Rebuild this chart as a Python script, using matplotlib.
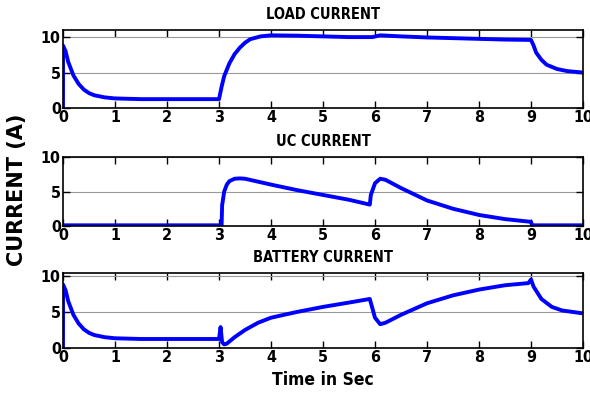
import matplotlib.pyplot as plt

# values (time in s, current in A)
load_t = [0, 0.001, 0.05, 0.1, 0.2, 0.3, 0.4, 0.5, 0.6, 0.8, 1.0, 1.5, 2.0, 2.5, 3.0,
          3.05, 3.1, 3.2, 3.3, 3.4, 3.5, 3.6, 3.8, 4.0, 4.5, 5.0, 5.5, 5.95, 6.1, 6.5,
          7.0, 7.5, 8.0, 8.5, 9.0, 9.05, 9.1, 9.2, 9.3, 9.5, 9.7, 10.0]
load_i = [0, 8.8, 8.0, 6.5, 4.6, 3.4, 2.6, 2.1, 1.8, 1.5, 1.35, 1.25, 1.25, 1.25, 1.25,
          3.0, 4.5, 6.3, 7.6, 8.5, 9.2, 9.7, 10.1, 10.25, 10.2, 10.1, 10.0, 10.0, 10.25, 10.1,
          9.95, 9.85, 9.75, 9.65, 9.6, 8.8, 7.8, 6.8, 6.1, 5.5, 5.2, 5.0]

uc_t = [0, 3.05, 3.06, 3.1, 3.15, 3.2, 3.3, 3.4, 3.5, 4.0, 4.5, 5.0, 5.5, 5.9, 5.92,
        6.0, 6.1, 6.2, 6.5, 7.0, 7.5, 8.0, 8.5, 9.0, 9.02, 10.0]
uc_i = [0.1, 0.1, 3.0, 5.0, 6.0, 6.5, 6.85, 6.9, 6.85, 6.0, 5.2, 4.5, 3.8, 3.1, 4.5,
        6.2, 6.85, 6.7, 5.5, 3.7, 2.5, 1.6, 1.0, 0.6, 0.1, 0.1]

bat_t = [0, 0.001, 0.05, 0.1, 0.2, 0.3, 0.4, 0.5, 0.6, 0.8, 1.0, 1.5, 2.0, 2.5, 3.0,
         3.03, 3.06, 3.1, 3.15, 3.3, 3.5, 3.75, 4.0, 4.5, 5.0, 5.5, 5.9, 5.95, 6.0,
         6.1, 6.2, 6.5, 7.0, 7.5, 8.0, 8.5, 8.95, 9.0, 9.05, 9.2, 9.4, 9.6, 10.0]
bat_i = [0, 8.8, 8.0, 6.5, 4.6, 3.4, 2.6, 2.1, 1.8, 1.5, 1.35, 1.25, 1.25, 1.25, 1.25,
         2.9, 0.8, 0.5, 0.6, 1.5, 2.5, 3.5, 4.2, 5.0, 5.7, 6.3, 6.8, 5.5, 4.2,
         3.3, 3.5, 4.6, 6.2, 7.3, 8.1, 8.7, 9.0, 9.5, 8.5, 6.8, 5.7, 5.2, 4.8]

titles = ["LOAD CURRENT", "UC CURRENT", "BATTERY CURRENT"]
series = [(load_t, load_i), (uc_t, uc_i), (bat_t, bat_i)]
y_tops = [11, 10, 10.4]

plt.rcParams["font.family"] = ["DejaVu Sans"]
plt.rcParams["font.stretch"] = "condensed"
plt.rcParams["font.weight"] = "bold"


def main():
    fig = plt.figure(figsize=(5.9, 3.96), dpi=100)
    W, H = 590, 396
    boxes = [(30, 108), (157, 226), (273, 348)]
    left, right = 63, 583
    for (top, bot), title, (t, i), ytop in zip(boxes, titles, series, y_tops):
        ax = fig.add_axes([left / W, 1 - bot / H, (right - left) / W, (bot - top) / H])
        ax.plot(t, i, color="#0000ff", lw=2.8)
        ax.set_xlim(0, 10)
        ax.set_ylim(0, ytop)
        ax.set_xticks(range(11))
        ax.set_yticks([0, 5, 10])
        ax.grid(axis="y", color="#999999", lw=0.8)
        ax.tick_params(direction="in", top=True, right=True, labelsize=11.5, pad=1.5,
                       length=5, width=1)
        for s in ax.spines.values():
            s.set_linewidth(1.2)
        ax.set_title(title, fontsize=10.5, fontweight="bold", pad=8)
        if title == "BATTERY CURRENT":
            ax.set_xlabel("Time in Sec", fontsize=12.5, fontweight="bold", labelpad=4)
    fig.text(0.029, 0.52, "CURRENT (A)", rotation=90, ha="center", va="center",
             fontsize=15, fontweight="bold", fontstretch="normal",
             family=["DejaVu Sans"])
    fig.savefig("out.png", dpi=100)


if __name__ == "__main__":
    main()
